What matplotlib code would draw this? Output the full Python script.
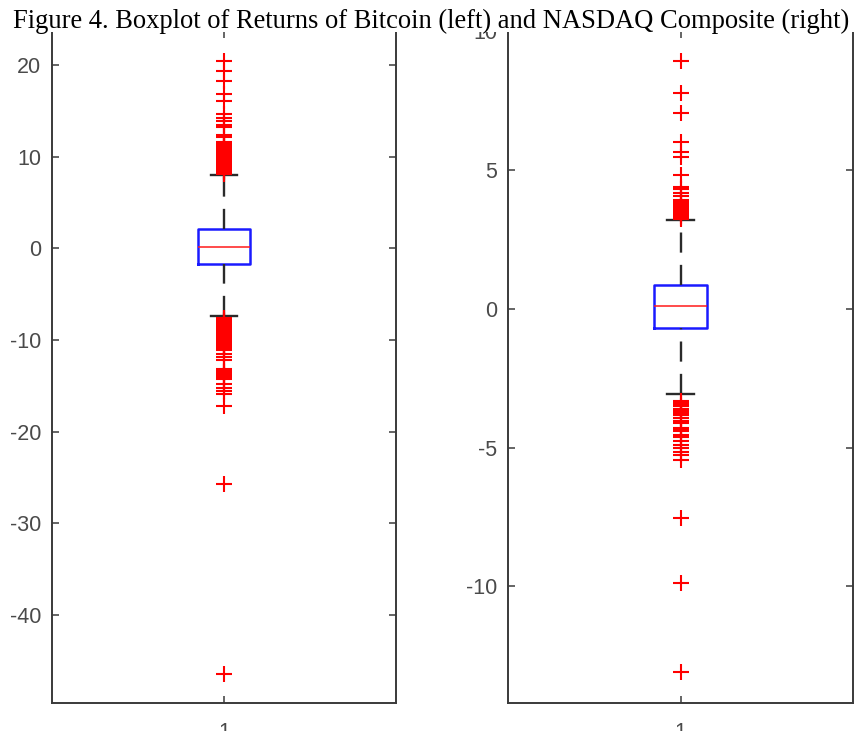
import matplotlib
matplotlib.use("Agg")
import matplotlib.pyplot as plt
from matplotlib.patches import Rectangle

# ==========================================
# DATA
# ==========================================

TITLE = "Figure 4. Boxplot of Returns of Bitcoin (left) and NASDAQ Composite (right)"

# Bitcoin returns
btc_q1, btc_med, btc_q3 = -1.74, 0.18, 2.15
btc_whislo, btc_whishi = -7.38, 7.96
btc_fliers = [20.4, 19.3, 18.2, 16.8, 16.1, 14.6, 14.25, 13.9, 13.5, 13.2,
              12.4, 12.1, 11.6, 11.45, 11.3, 11.15, 11.0, 10.85, 10.7, 10.55,
              10.4, 10.25, 10.1, 9.95, 9.8, 9.65, 9.5, 9.35, 9.2, 9.05, 8.9,
              8.75, 8.6, 8.45, 8.3, 8.15,
              -7.65, -7.8, -7.95, -8.1, -8.25, -8.4, -8.55, -8.7, -8.85, -9.0,
              -9.15, -9.3, -9.45, -9.6, -9.75, -9.9, -10.05, -10.2, -10.35,
              -10.5, -10.65, -10.8, -10.95, -11.05, -11.55, -11.9, -12.2,
              -13.2, -13.35, -13.5, -13.65, -13.8, -13.95, -14.1, -14.25,
              -14.85, -15.2, -15.55, -15.9, -17.2, -25.7, -46.45]
btc_yticks = [-40, -30, -20, -10, 0, 10, 20]
btc_ylim = (-49.6, 23.7)

# NASDAQ Composite returns
ndq_q1, ndq_med, ndq_q3 = -0.71, 0.10, 0.87
ndq_whislo, ndq_whishi = -3.09, 3.18
ndq_fliers = [8.91, 7.78, 7.06, 6.0, 5.64, 5.46, 4.80, 4.38, 4.31, 4.17,
              4.05, 3.9, 3.84, 3.78, 3.70, 3.64, 3.58, 3.52, 3.46, 3.40,
              3.34, 3.28, 3.24,
              -3.32, -3.38, -3.45, -3.52, -3.60, -3.70, -3.75, -3.82, -3.95,
              -4.05, -4.12, -4.28, -4.35, -4.42, -4.55, -4.62, -4.78, -4.90,
              -5.02, -5.15, -5.28, -5.45, -7.54, -9.87, -13.1]
ndq_yticks = [-10, -5, 0, 5, 10]
ndq_ylim = (-14.2, 10.0)

# ==========================================
# STYLE
# ==========================================

plt.rcParams['font.family'] = ['Liberation Sans', 'DejaVu Sans']
plt.rcParams['lines.scale_dashes'] = False
plt.rcParams['axes.unicode_minus'] = False

SPINE = '#3a3a3a'
LABEL = '#4a4a4a'

fig = plt.figure(figsize=(8.57, 7.31), dpi=100)

panels = [
    ([0.0607, 0.0383, 0.4014, 0.9193],
     dict(med=btc_med, q1=btc_q1, q3=btc_q3, whislo=btc_whislo,
          whishi=btc_whishi, fliers=btc_fliers),
     btc_yticks, btc_ylim),
    ([0.5928, 0.0383, 0.4026, 0.9193],
     dict(med=ndq_med, q1=ndq_q1, q3=ndq_q3, whislo=ndq_whislo,
          whishi=ndq_whishi, fliers=ndq_fliers),
     ndq_yticks, ndq_ylim),
]

for rect, stats, yticks, ylim in panels:
    ax = fig.add_axes(rect)
    bp = ax.bxp([stats], positions=[1], widths=0.152,
                boxprops=dict(color='#1a1aff', linewidth=1.8),
                medianprops=dict(color='#ff1a1a', linewidth=1.1),
                whiskerprops=dict(color='#2a2a2a', linewidth=1.7,
                                  linestyle=(0, (14.5, 8.8))),
                capprops=dict(color='#2a2a2a', linewidth=1.7),
                flierprops=dict(marker='+', markersize=12,
                                markeredgecolor='#ff0000',
                                markeredgewidth=1.5, linestyle='none'))
    # lower whisker dash pattern starts from the cap end
    lo = bp['whiskers'][0]
    lo.set_ydata(lo.get_ydata()[::-1])

    ax.set_xlim(0.5, 1.5)
    ax.set_ylim(*ylim)
    ax.set_xticks([1])
    ax.set_xticklabels(['1'])
    ax.set_yticks(yticks)
    ax.tick_params(direction='in', length=5, width=1.1, color=SPINE,
                   labelsize=15.5, labelcolor=LABEL, top=True, right=True,
                   pad=8)
    ax.tick_params(axis='x', pad=14)
    for side in ['left', 'right', 'bottom']:
        ax.spines[side].set_color(SPINE)
        ax.spines[side].set_linewidth(1.4)
    ax.spines['top'].set_visible(False)

# caption pasted over the top of the figure
fig.add_artist(Rectangle((0, 1 - 32 / 731), 1, 32 / 731,
                         transform=fig.transFigure, facecolor='white',
                         edgecolor='none', zorder=10))
fig.text(13 / 857, 1 - 28.5 / 731, TITLE, family='Liberation Serif',
         fontsize=19.1, color='black', ha='left', va='baseline', zorder=11)

fig.savefig('out.png', dpi=100)
